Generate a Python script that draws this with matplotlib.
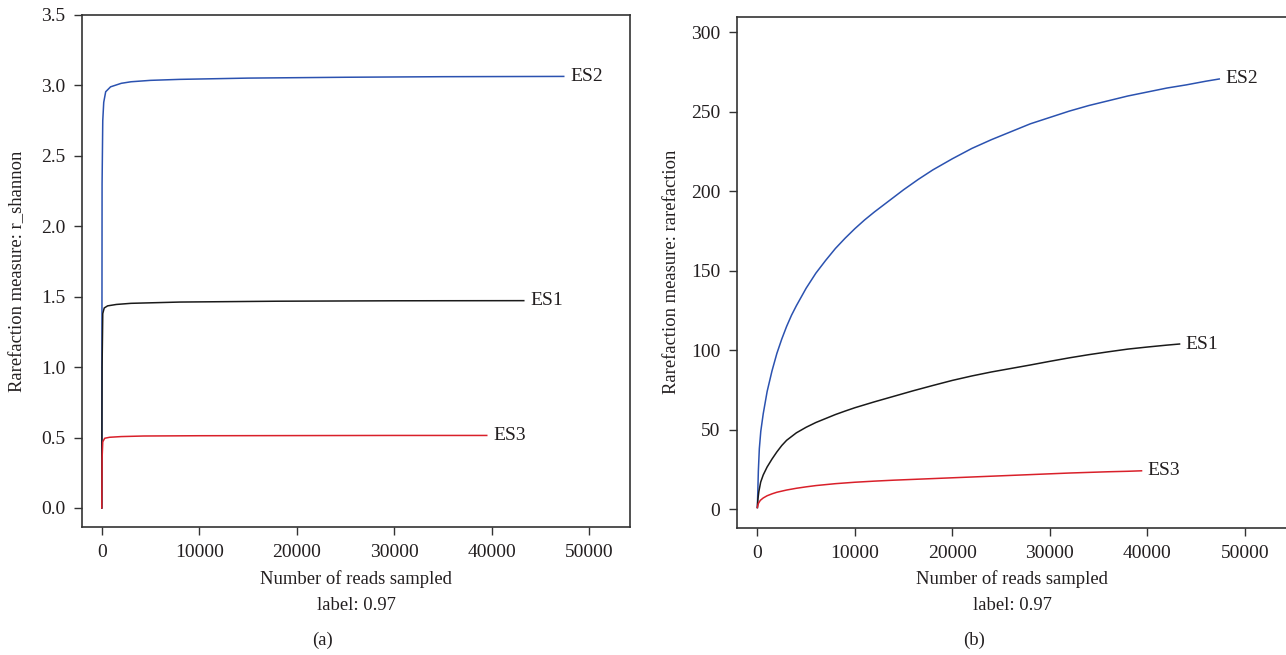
import matplotlib
matplotlib.use("Agg")
import matplotlib.pyplot as plt

plt.rcParams['font.family'] = ['Liberation Serif', 'DejaVu Serif']
plt.rcParams['font.size'] = 14

# ---- data: panel (a) r_shannon ----
a_es2_x = [0, 30, 100, 200, 400, 900, 2000, 3000, 5000, 8000, 15000, 25000, 35000, 47400]
a_es2_y = [0, 2.3, 2.75, 2.88, 2.955, 2.99, 3.015, 3.026, 3.036, 3.043, 3.052, 3.058, 3.062, 3.064]
a_es1_x = [0, 30, 100, 250, 600, 1500, 3000, 8000, 18000, 30000, 43300]
a_es1_y = [0, 1.0, 1.38, 1.42, 1.435, 1.445, 1.453, 1.462, 1.468, 1.471, 1.472]
a_es3_x = [0, 30, 100, 300, 800, 2000, 4300, 10000, 20000, 30000, 39500]
a_es3_y = [0, 0.35, 0.47, 0.495, 0.502, 0.507, 0.511, 0.513, 0.514, 0.515, 0.515]

# ---- data: panel (b) rarefaction ----
b_es2_x = [0, 100, 200, 350, 600, 1000, 1500, 2000, 2500, 3000, 3500, 4000, 5000, 6000,
           7000, 8000, 9000, 10000, 11000, 12000, 13500, 15000, 16500, 18000, 20000, 22000,
           24000, 26000, 28000, 30000, 32000, 34000, 36000, 38000, 40000, 42000, 44000,
           46000, 47370]
b_es2_y = [1, 24, 38, 49, 60, 74, 87, 98, 107, 115, 122, 128, 139, 148.5,
           156.5, 164, 170.5, 176.5, 182, 187, 194, 201, 207.5, 213.5, 220.5, 227,
           232.5, 237.5, 242.5, 246.5, 250.5, 254, 257, 260, 262.5, 265, 267,
           269.3, 270.7]
b_es1_x = [0, 50, 150, 340, 600, 1000, 1500, 2000, 2500, 3000, 4000, 5000, 6000, 7000,
           8000, 9000, 10000, 12000, 14000, 16000, 18000, 20000, 22000, 24000, 26000,
           28000, 30000, 32000, 34000, 36000, 38000, 40000, 42000, 43300]
b_es1_y = [1, 6, 11, 17, 21.5, 26.5, 31.5, 36, 40, 43.3, 48, 51.5, 54.5, 57,
           59.5, 61.7, 63.8, 67.5, 71, 74.5, 77.8, 81, 83.8, 86.3, 88.5,
           90.7, 93, 95.2, 97.2, 99, 100.7, 102, 103.2, 103.9]
b_es3_x = [0, 100, 300, 600, 1000, 1500, 2000, 3000, 4000, 5000, 6000, 7000, 8000, 10000,
           12000, 14000, 16000, 18000, 20000, 22000, 24000, 26000, 28000, 30000, 32000,
           34000, 36000, 38000, 39400]
b_es3_y = [1, 3.5, 5.5, 7, 8.4, 9.6, 10.6, 12, 13.1, 14, 14.8, 15.4, 16, 16.9,
           17.6, 18.2, 18.7, 19.2, 19.7, 20.2, 20.7, 21.2, 21.7, 22.2, 22.7,
           23.1, 23.5, 23.8, 24.1]

labels = ["ES2", "ES1", "ES3"]
colors = ["#2b52b0", "#1a1a1a", "#d9202a"]
xticks = [0, 10000, 20000, 30000, 40000, 50000]
a_yticks = [0.0, 0.5, 1.0, 1.5, 2.0, 2.5, 3.0, 3.5]
b_yticks = [0, 50, 100, 150, 200, 250, 300]

W, H = 1286, 655
fig = plt.figure(figsize=(W / 100, H / 100), dpi=100)
txtc = "#231f20"

axA = fig.add_axes([82 / W, (H - 527) / H, 548 / W, 512 / H])
axB = fig.add_axes([737 / W, (H - 528) / H, 550 / W, (528 - 16.7) / H])


def style(ax):
    for s in ax.spines.values():
        s.set_color("#333333")
        s.set_linewidth(1.2)
    ax.tick_params(direction="out", length=6, width=1.0, color="#333333",
                   labelcolor=txtc, labelsize=14, pad=6)


seriesA = [(a_es2_x, a_es2_y), (a_es1_x, a_es1_y), (a_es3_x, a_es3_y)]
seriesB = [(b_es2_x, b_es2_y), (b_es1_x, b_es1_y), (b_es3_x, b_es3_y)]

for ax, series in ((axA, seriesA), (axB, seriesB)):
    for (xs, ys), lab, c in zip(series, labels, colors):
        ax.plot(xs, ys, color=c, lw=1.1)
        ax.annotate(lab, xy=(xs[-1], ys[-1]), xytext=(4.5, 0), textcoords="offset points",
                    ha="left", va="center", fontsize=14, color=txtc)
    ax.set_xticks(xticks)
    ax.set_xticklabels([str(t) for t in xticks])
    style(ax)

axA.set_xlim(-2030, 54200)
axA.set_ylim(-0.135, 3.5)
axA.set_yticks(a_yticks)
axA.set_yticklabels(["%.1f" % t for t in a_yticks])

axB.set_xlim(-2090, 54320)
axB.set_ylim(-11.9, 309.9)
axB.set_yticks(b_yticks)
axB.set_yticklabels([str(t) for t in b_yticks])


def ftext(x, y, s, size=13.4, **kw):
    fig.text(x / W, 1 - y / H, s, ha="center", va="center", fontsize=size, color=txtc, **kw)


ftext(356, 579, "Number of reads sampled")
ftext(356, 605, "label: 0.97")
ftext(322, 640, "(a)")
ftext(1012, 579, "Number of reads sampled")
ftext(1012, 605, "label: 0.97")
ftext(974, 640, "(b)")
ftext(18, 271, "Rarefaction measure: r_shannon", rotation=90)
ftext(672, 272, "Rarefaction measure: rarefaction", rotation=90)

fig.savefig("out.png", dpi=100)
